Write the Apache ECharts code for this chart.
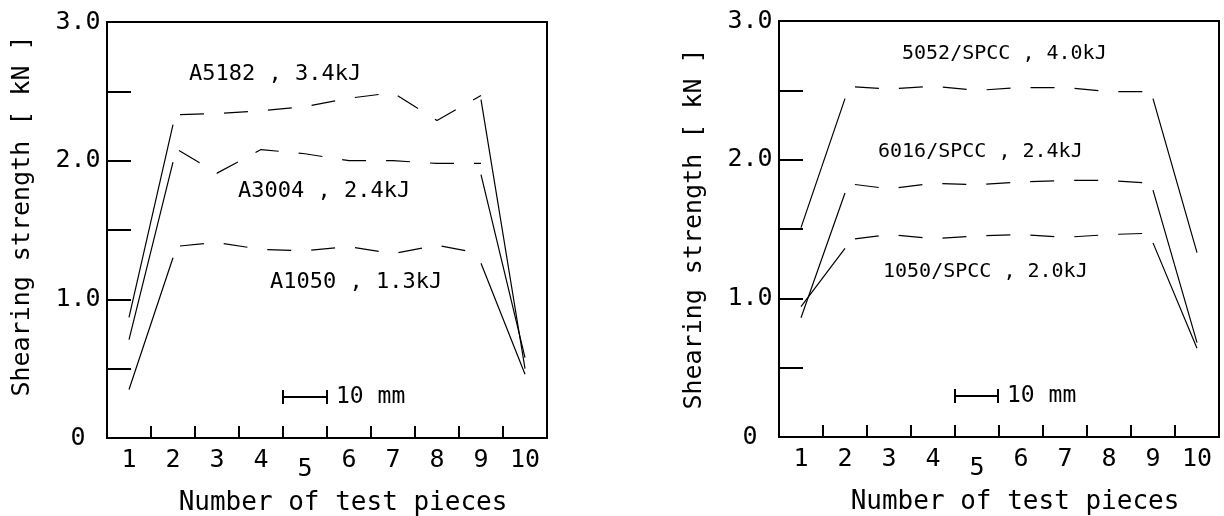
<!DOCTYPE html>
<html><head><meta charset="utf-8">
<script src="https://cdn.jsdelivr.net/npm/echarts@6/dist/echarts.min.js"></script>
<style>html,body{margin:0;padding:0;background:#fff}#c{width:1224px;height:516px}</style>
</head><body><div id="c"></div>
<script>
const categories = ['1','2','3','4','5','6','7','8','9','10'];
const yTickLabels = ['0','1.0','2.0','3.0'];
const yAxisTitle = 'Shearing strength [ kN ]';
const xAxisTitle = 'Number of test pieces';

// Left panel (solid = end segments, dashed = middle)
const a5182Solid  = [0.87, 2.26, null, null, null, null, null, null, 2.44, 0.50];
const a5182Dashed = [null, 2.33, 2.34, 2.36, 2.39, 2.45, 2.49, 2.29, 2.47, null];
const a3004Solid  = [0.71, 1.99, null, null, null, null, null, null, 1.90, 0.58];
const a3004Dashed = [null, 2.10, 1.91, 2.08, 2.05, 2.00, 2.00, 1.98, 1.98, null];
const a1050Solid  = [0.35, 1.30, null, null, null, null, null, null, 1.26, 0.46];
const a1050Dashed = [null, 1.38, 1.41, 1.36, 1.35, 1.38, 1.33, 1.39, 1.33, null];

// Right panel
const s5052Solid  = [1.51, 2.44, null, null, null, null, null, null, 2.44, 1.33];
const s5052Dashed = [null, 2.53, 2.51, 2.53, 2.50, 2.52, 2.52, 2.49, 2.49, null];
const s6016Solid  = [0.86, 1.76, null, null, null, null, null, null, 1.78, 0.68];
const s6016Dashed = [null, 1.83, 1.79, 1.83, 1.82, 1.84, 1.85, 1.85, 1.83, null];
const s1050Solid  = [0.94, 1.36, null, null, null, null, null, null, 1.40, 0.64];
const s1050Dashed = [null, 1.42, 1.46, 1.43, 1.45, 1.46, 1.44, 1.46, 1.47, null];

const leftLabels  = ['A5182 , 3.4kJ', 'A3004 , 2.4kJ', 'A1050 , 1.3kJ'];
const rightLabels = ['5052/SPCC , 4.0kJ', '6016/SPCC , 2.4kJ', '1050/SPCC , 2.0kJ'];
const scaleText = '10 mm';

const MONO = '"DejaVu Sans Mono", monospace';
const chart = echarts.init(document.getElementById('c'), null, {renderer: 'canvas'});

function xAxisCfg(gridIndex) {
  return {
    type: 'category', gridIndex, data: categories, boundaryGap: true,
    axisLine: {show: true, lineStyle: {color: '#000', width: 2}},
    axisTick: {show: true, inside: true, length: 12, interval: 0, alignWithLabel: false,
      lineStyle: {color: '#000', width: 2}},
    axisLabel: {
      show: true, color: '#000', fontFamily: MONO, fontSize: 25, margin: 10, interval: 0,
      formatter: v => v === '5' ? '{low|5}' : v,
      rich: {low: {color: '#000', fontFamily: MONO, fontSize: 25, padding: [9, 0, 0, 0]}}
    },
    splitLine: {show: false},
    name: xAxisTitle, nameLocation: 'middle', nameGap: 52,
    nameTextStyle: {color: '#000', fontFamily: MONO, fontSize: 26, padding: [0, 0, 0, 32]}
  };
}
function yAxisCfg(gridIndex, namePad) {
  return {
    type: 'value', gridIndex, min: 0, max: 3, interval: 0.5,
    axisLine: {show: true, lineStyle: {color: '#000', width: 2}},
    axisTick: {show: true, inside: true, length: 24, lineStyle: {color: '#000', width: 2}},
    axisLabel: {
      color: '#000', fontFamily: MONO, fontSize: 25, align: 'center', margin: 29,
      formatter: v => (Math.abs(v - Math.round(v)) < 1e-9) ? yTickLabels[Math.round(v)] : ''
    },
    splitLine: {show: false},
    name: yAxisTitle, nameLocation: 'middle', nameRotate: 90, nameGap: 72,
    nameTextStyle: {color: '#000', fontFamily: MONO, fontSize: 25, padding: namePad}
  };
}
function solid(idx, data) {
  return {type: 'line', xAxisIndex: idx, yAxisIndex: idx, data, symbol: 'none',
    connectNulls: false, silent: true, z: 3,
    lineStyle: {color: '#000', width: 1.2}};
}
function dashed(idx, data, offset) {
  return {type: 'line', xAxisIndex: idx, yAxisIndex: idx, data, symbol: 'none',
    connectNulls: false, silent: true, z: 3,
    lineStyle: {color: '#000', width: 1.2, type: [24, 20], dashOffset: offset}};
}
function txt(text, x, y, size) {
  return {type: 'text', x, y, silent: true,
    style: {text, fill: '#000', fontFamily: MONO, fontSize: size, verticalAlign: 'middle', align: 'left'}};
}
function scaleBar(x1, x2, y) {
  const ls = {stroke: '#000', lineWidth: 2};
  return [
    {type: 'line', silent: true, shape: {x1, y1: y, x2, y2: y}, style: ls},
    {type: 'line', silent: true, shape: {x1, y1: y - 7, x2: x1, y2: y + 7}, style: ls},
    {type: 'line', silent: true, shape: {x1: x2, y1: y - 7, x2, y2: y + 7}, style: ls}
  ];
}

chart.setOption({
  animation: false,
  backgroundColor: '#fff',
  grid: [
    {left: 107, top: 22, width: 440, height: 416, show: true, borderColor: '#000', borderWidth: 2,
     backgroundColor: 'transparent', z: 0, containLabel: false, outerBoundsMode: 'none'},
    {left: 779, top: 21, width: 440, height: 416, show: true, borderColor: '#000', borderWidth: 2,
     backgroundColor: 'transparent', z: 0, containLabel: false, outerBoundsMode: 'none'}
  ],
  xAxis: [xAxisCfg(0), xAxisCfg(1)],
  yAxis: [yAxisCfg(0, [0, 0, 0, 28]), yAxisCfg(1, [0, 0, 0, 0])],
  series: [
    solid(0, a5182Solid), dashed(0, a5182Dashed, 37),
    solid(0, a3004Solid), dashed(0, a3004Dashed, 37),
    solid(0, a1050Solid), dashed(0, a1050Dashed, 37),
    solid(1, s5052Solid), dashed(1, s5052Dashed, 34),
    solid(1, s6016Solid), dashed(1, s6016Dashed, 34),
    solid(1, s1050Solid), dashed(1, s1050Dashed, 34)
  ],
  graphic: [
    txt(leftLabels[0], 189, 74, 22),
    txt(leftLabels[1], 238, 191, 22),
    txt(leftLabels[2], 270, 282, 22),
    txt(rightLabels[0], 902, 54, 20),
    txt(rightLabels[1], 878, 152, 20),
    txt(rightLabels[2], 883, 272, 20),
    ...scaleBar(283, 327, 397),
    txt(scaleText, 336, 397, 23),
    ...scaleBar(955, 998, 396),
    txt(scaleText, 1007, 396, 23)
  ]
});
</script></body></html>
